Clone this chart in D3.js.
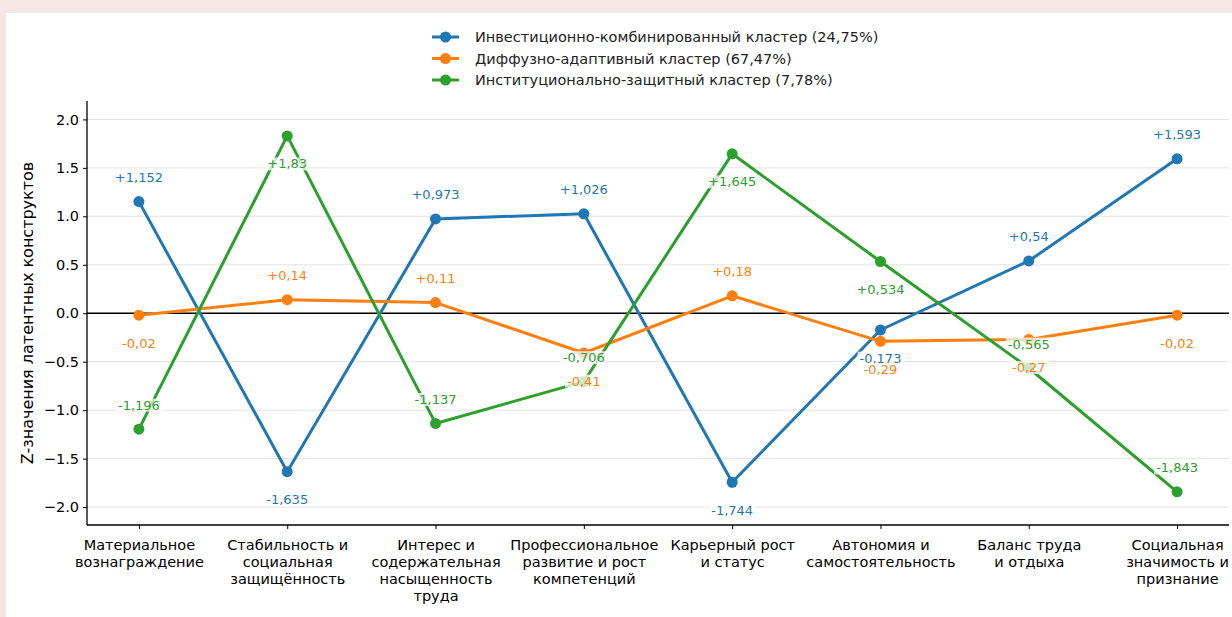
<!DOCTYPE html>
<html><head><meta charset="utf-8">
<script src="https://cdn.jsdelivr.net/npm/d3@7"></script>
<style>
html,body{margin:0;padding:0;background:#f6e5e5;}
svg{display:block;}
text{font-family:"DejaVu Sans",sans-serif;}
</style></head>
<body>
<svg id="chart" width="1232" height="617"></svg>
<script>
const categories = [
  ["Материальное","вознаграждение"],
  ["Стабильность и","социальная","защищённость"],
  ["Интерес и","содержательная","насыщенность","труда"],
  ["Профессиональное","развитие и рост","компетенций"],
  ["Карьерный рост","и статус"],
  ["Автономия и","самостоятельность"],
  ["Баланс труда","и отдыха"],
  ["Социальная","значимость и","признание"]
];
const seriesNames = [
  "Инвестиционно-комбинированный кластер (24,75%)",
  "Диффузно-адаптивный кластер (67,47%)",
  "Институционально-защитный кластер (7,78%)"
];
const investValues = [1.152, -1.635, 0.973, 1.026, -1.744, -0.173, 0.54, 1.593];
const diffuseValues = [-0.02, 0.14, 0.11, -0.41, 0.18, -0.29, -0.27, -0.02];
const institValues = [-1.196, 1.83, -1.137, -0.706, 1.645, 0.534, -0.565, -1.843];
const yTicks = [-2.0, -1.5, -1.0, -0.5, 0.0, 0.5, 1.0, 1.5, 2.0];
const colors = ["#1f77b4", "#ff7f0e", "#2ca02c"];
const labelSides = [1, 1, -1]; // +1: positive above, negative below; -1: reversed

const series = [investValues, diffuseValues, institValues];

const svg = d3.select("#chart");
svg.append("rect").attr("x",6).attr("y",13).attr("width",1226).attr("height",604).attr("fill","#fff");

const L = 87, R = 1229, T = 101, B = 525;
const x = d3.scaleLinear().domain([-0.35, 7.35]).range([L, R]);
const y = d3.scaleLinear().domain([-2.185, 2.19]).range([B, T]);

// grid
svg.append("g").selectAll("line").data(yTicks).join("line")
  .attr("x1", L).attr("x2", R)
  .attr("y1", d => y(d)).attr("y2", d => y(d))
  .attr("stroke", "#e3e3e3").attr("stroke-width", 1);

// zero line
svg.append("line").attr("x1", L).attr("x2", R).attr("y1", y(0)).attr("y2", y(0))
  .attr("stroke", "#000").attr("stroke-width", 1.5);

// axes
const yAxis = d3.axisLeft(y).tickValues(yTicks).tickSize(4).tickPadding(4)
  .tickFormat(d => d3.format(".1f")(d).replace("-", "\u2212"));
const gy = svg.append("g").attr("transform", `translate(${L},0)`).call(yAxis);
gy.select(".domain").attr("d", `M-0,${T}V${B}`).attr("stroke-width", 1.3);
gy.selectAll("text").attr("font-size", 14.5).attr("fill", "#000").attr("font-family", "DejaVu Sans");
gy.selectAll(".tick line").attr("stroke-width", 1);

const xAxis = d3.axisBottom(x).tickValues(d3.range(categories.length)).tickSize(4).tickFormat("");
const gx = svg.append("g").attr("transform", `translate(0,${B})`).call(xAxis);
gx.select(".domain").attr("d", `M${L},0H${R}`).attr("stroke-width", 1.3);
gx.selectAll(".tick").each(function(d) {
  const t = d3.select(this).append("text").attr("fill", "#000").attr("font-size", 14.5)
    .attr("text-anchor", "middle").attr("font-family", "DejaVu Sans");
  categories[d].forEach((ln, i) => {
    t.append("tspan").attr("x", 0).attr("y", 25 + i * 17).text(ln);
  });
});

// y label
svg.append("text").attr("transform", `translate(33,${(T + B) / 2}) rotate(-90)`)
  .attr("text-anchor", "middle").attr("font-size", 16).attr("fill", "#000")
  .text("Z-значения латентных конструктов");

// lines
const line = d3.line().x((d, i) => x(i)).y(d => y(d));
series.forEach((vals, s) => {
  svg.append("path").datum(vals).attr("d", line).attr("fill", "none")
    .attr("stroke", colors[s]).attr("stroke-width", 3).attr("stroke-linejoin", "round");
  svg.append("g").selectAll("circle").data(vals).join("circle")
    .attr("cx", (d, i) => x(i)).attr("cy", d => y(d)).attr("r", 5.5).attr("fill", colors[s]);
});

// labels
const fmt = v => (v > 0 ? "+" : "") + String(v).replace(".", ",");
series.forEach((vals, s) => {
  vals.forEach((v, i) => {
    const up = (v >= 0 ? 1 : -1) * labelSides[s];
    const cy = y(v) - (up > 0 ? 24 : -28);
    const g = svg.append("g");
    const t = g.append("text").attr("x", x(i)).attr("y", cy).attr("dy", "0.35em")
      .attr("text-anchor", "middle").attr("font-size", 13).attr("fill", colors[s]).text(fmt(v));
    const bb = t.node().getBBox();
    g.insert("rect", "text").attr("x", bb.x - 2).attr("y", bb.y + 1).attr("width", bb.width + 4)
      .attr("height", bb.height - 2).attr("fill", "#fff").attr("opacity", 0.75);
  });
});

// legend
const lg = svg.append("g").attr("transform", "translate(432,37)");
seriesNames.forEach((n, i) => {
  const r = lg.append("g").attr("transform", `translate(0,${i * 21.5})`);
  r.append("line").attr("x1", 0).attr("x2", 27).attr("stroke", colors[i]).attr("stroke-width", 3);
  r.append("circle").attr("cx", 13.5).attr("r", 5.5).attr("fill", colors[i]);
  r.append("text").attr("x", 43).attr("dy", "0.35em").attr("font-size", 14.5).attr("fill", "#222").text(n);
});
</script>
</body></html>
